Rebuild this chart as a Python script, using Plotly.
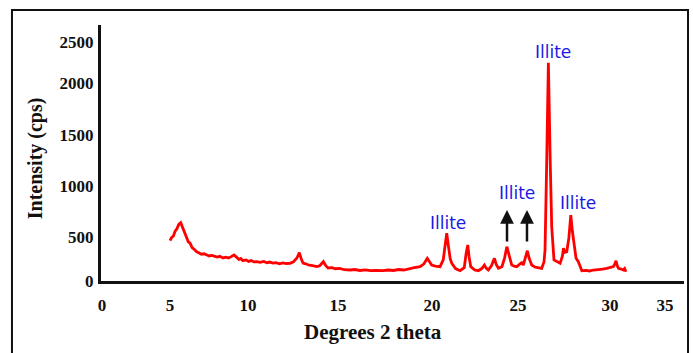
import plotly.graph_objects as go

# Diffraction pattern
two_theta = [5.06, 5.15, 5.25, 5.35, 5.45, 5.55, 5.67, 5.78, 5.88, 6.00, 6.10, 6.20, 6.32, 6.45, 6.58,
             6.70, 6.85, 7.00, 7.15, 7.30, 7.45, 7.60, 7.75, 7.90, 8.08, 8.25, 8.40, 8.55, 8.71, 8.85,
             9.00, 9.10, 9.22, 9.40, 9.55, 9.70, 9.85, 10.01, 10.20, 10.40, 10.60, 10.75, 10.94, 11.10,
             11.30, 11.50, 11.70, 11.91, 12.10, 12.30, 12.44, 12.55, 12.65, 12.80, 13.00, 13.20, 13.43,
             13.60, 13.81, 13.95, 14.08, 14.30, 14.50, 14.75, 15.00, 15.33, 15.60, 15.90, 16.20, 16.50,
             16.80, 17.21, 17.50, 17.80, 18.10, 18.40, 18.76, 19.00, 19.33, 19.55, 19.74, 19.85, 19.99,
             20.20, 20.47, 20.65, 20.75, 20.85, 20.95, 21.05, 21.14, 21.35, 21.61, 21.85, 21.95, 22.05,
             22.12, 22.22, 22.45, 22.65, 22.85, 23.00, 23.10, 23.22, 23.40, 23.57, 23.68, 23.80, 24.00,
             24.15, 24.28, 24.40, 24.56, 24.70, 24.85, 25.00, 25.13, 25.22, 25.35, 25.45, 25.55, 25.70,
             25.90, 26.10, 26.27, 26.40, 26.46, 26.55, 26.65, 26.75, 26.84, 26.97, 27.13, 27.32, 27.45,
             27.51, 27.60, 27.70, 27.82, 27.93, 28.02, 28.12, 28.23, 28.36, 28.45, 28.56, 28.80, 29.00,
             29.22, 29.50, 29.75, 29.98, 30.20, 30.36, 30.45, 30.51, 30.58, 30.65, 30.80, 30.93, 31.00,
             31.08]
intensity = [422, 455, 470, 520, 545, 590, 610, 560, 500, 450, 410, 397, 350, 330, 306,
             295, 280, 285, 272, 262, 268, 255, 250, 258, 241, 250, 240, 255, 272, 250,
             225, 235, 212, 220, 205, 215, 200, 202, 195, 205, 190, 198, 188, 192,
             180, 190, 183, 185, 200, 240, 296, 230, 188, 180, 165, 160, 150,
             160, 202, 160, 136, 140, 128, 132, 118, 115, 120, 110, 116, 108,
             112, 108, 115, 110, 120, 115, 133, 140, 150, 180, 237, 200, 167,
             155, 150, 220, 380, 499, 360, 230, 185, 130, 108, 140, 280, 377,
             260, 150, 115, 108, 130, 167, 135, 115, 160, 237, 170, 133, 150,
             240, 359, 270, 167, 155, 150, 175, 191, 167, 240, 317, 240, 167,
             145, 140, 133, 200, 324, 1200, 2283, 1300, 568, 220, 202, 185, 260,
             342, 300, 306, 450, 690, 520, 359, 237, 202, 150, 108, 112, 105,
             115, 118, 125, 133, 140, 150, 180, 212, 160, 133, 125, 115, 130,
             97]

x_tick_labels = ["0", "5", "10", "15", "20", "25", "30", "35"]
x_tick_pos = [1.18, 5.06, 9.51, 14.65, 20.01, 24.92, 30.17, 33.31]
y_tick_labels = ["0", "500", "1000", "1500", "2000", "2500"]
y_tick_pos = [0, 460, 995, 1527, 2071, 2500]

label_text = ["Illite", "Illite", "Illite", "Illite"]
label_x = [26.92, 24.86, 28.35, 20.92]
label_y = [2395, 920, 816, 607]

arrow_x = [24.29, 25.43]
arrow_tail = [397, 397]
arrow_tip = [743, 743]

fig = go.Figure()
fig.add_trace(go.Scatter(x=two_theta, y=intensity, mode="lines",
                         line=dict(color="#ff0000", width=2.8), showlegend=False))

tick_font = dict(family="Liberation Serif", size=17, color="#111111", weight="bold")

fig.update_layout(
    width=693, height=353,
    margin=dict(l=101, r=9, t=25, b=72),
    paper_bgcolor="white", plot_bgcolor="white",
    xaxis=dict(range=[1.12, 34.39], showgrid=False, zeroline=False,
               showline=True, linecolor="#111111", linewidth=3,
               tickmode="array", tickvals=x_tick_pos, ticktext=x_tick_labels,
               ticks="", ticklabelstandoff=7, tickfont=tick_font),
    yaxis=dict(range=[0, 2678], showgrid=False, zeroline=False,
               showline=True, linecolor="#111111", linewidth=3,
               tickmode="array", tickvals=y_tick_pos, ticktext=y_tick_labels,
               ticks="", ticklabelstandoff=1, tickfont=tick_font),
)

# outer frame
fig.add_shape(type="rect", xref="paper", yref="paper",
              x0=-0.1527, x1=1.0069, y0=-0.33, y1=1.0586,
              line=dict(color="#111111", width=2))

fig.add_annotation(text="Intensity (cps)", xref="paper", yref="paper",
                   x=-0.113, y=0.48, xanchor="center", yanchor="middle",
                   textangle=-90, showarrow=False,
                   font=dict(family="Liberation Serif", size=20, color="#111111", weight="bold"))
fig.add_annotation(text="Degrees 2 theta", xref="paper", yref="paper",
                   x=0.4666, y=-0.199, xanchor="center", yanchor="middle", showarrow=False,
                   font=dict(family="Liberation Serif", size=21, color="#111111", weight="bold"))

for t, lx, ly in zip(label_text, label_x, label_y):
    fig.add_annotation(text=t, x=lx, y=ly, showarrow=False,
                       xanchor="center", yanchor="middle",
                       font=dict(family="DejaVu Sans", size=17, color="#1a1ae6"))

for ax_, t0, t1 in zip(arrow_x, arrow_tail, arrow_tip):
    fig.add_annotation(x=ax_, y=t1, ax=ax_, ay=t0, axref="x", ayref="y",
                       text="", showarrow=True, arrowhead=2, arrowsize=1.1,
                       arrowwidth=2.5, arrowcolor="#111111")

fig.write_html("out.html")
